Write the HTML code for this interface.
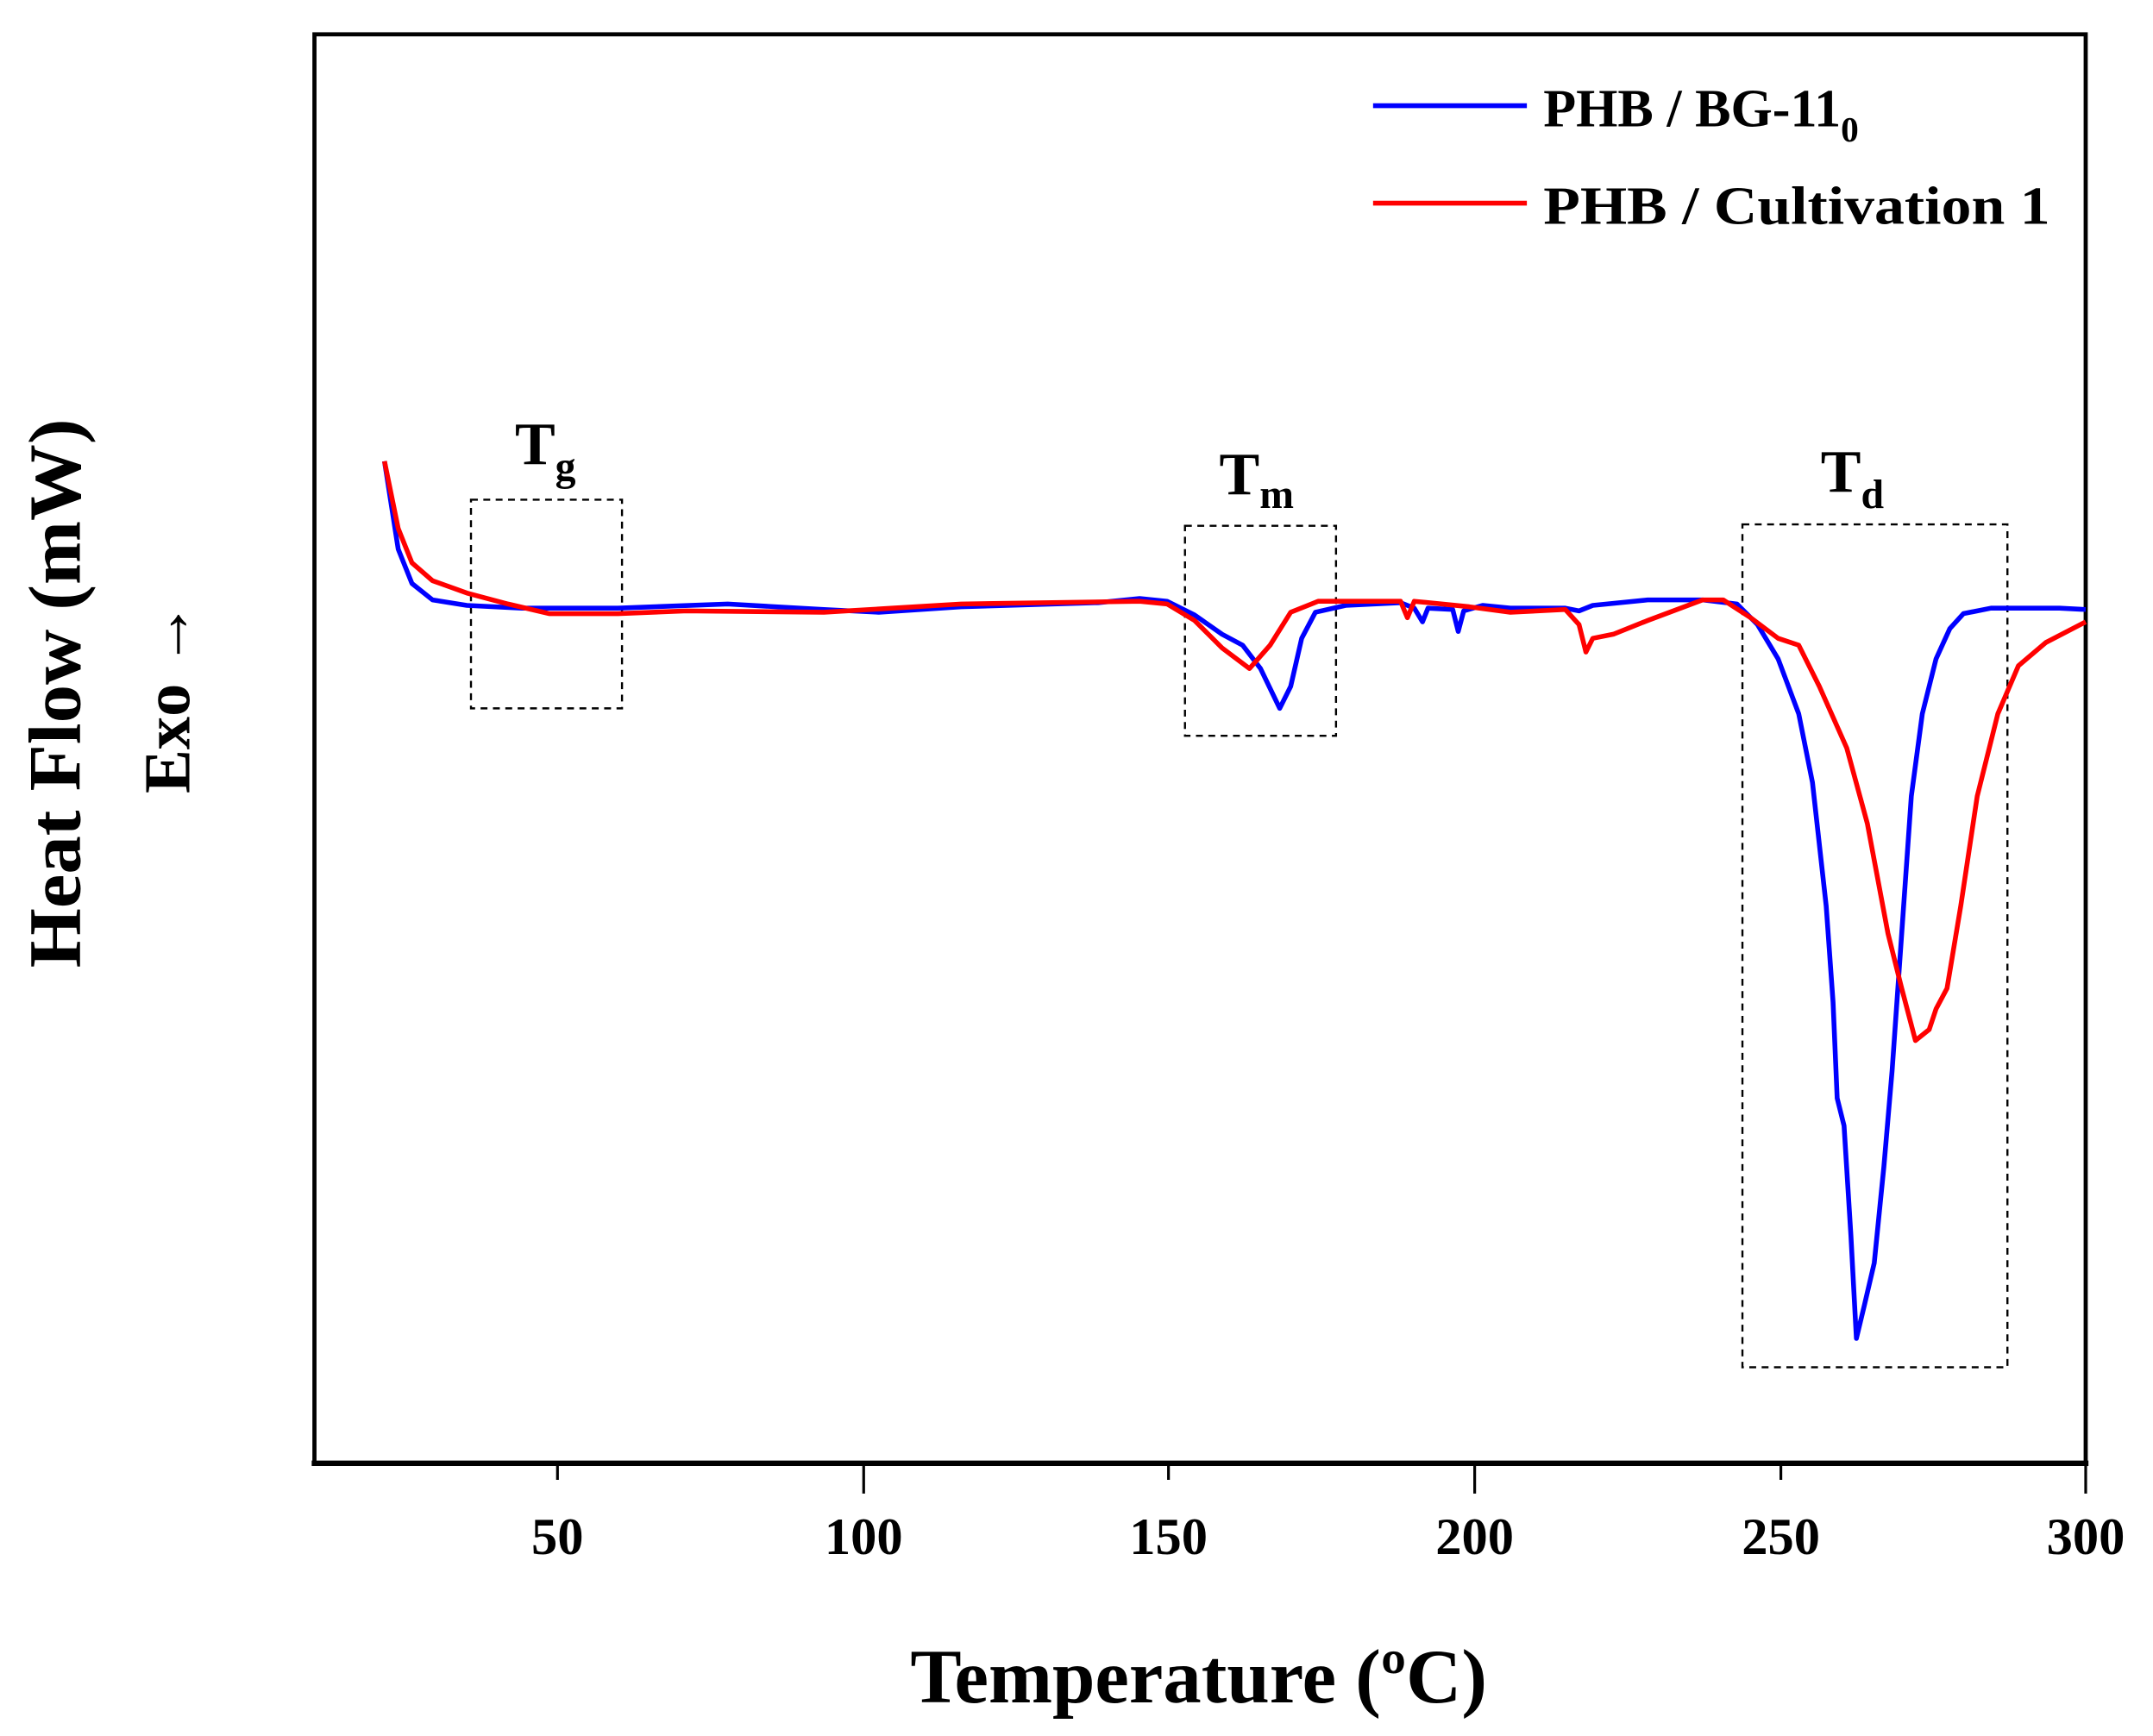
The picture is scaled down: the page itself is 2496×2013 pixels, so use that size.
<!DOCTYPE html>
<html><head><meta charset="utf-8"><style>html,body{margin:0;padding:0;background:#fff}svg{display:block}</style></head>
<body>
<svg width="2496" height="2013" viewBox="0 0 1568 1264.6" xmlns="http://www.w3.org/2000/svg" font-family="Liberation Serif, serif" font-weight="bold">
<rect x="229" y="25" width="1290" height="1041" fill="none" stroke="#000" stroke-width="3"/>
<line x1="227" y1="1066" x2="1521" y2="1066" stroke="#000" stroke-width="4"/>
<g stroke="#000" stroke-width="2">
<line x1="406" y1="1066" x2="406" y2="1078"/><line x1="629" y1="1066" x2="629" y2="1088"/>
<line x1="851" y1="1066" x2="851" y2="1078"/><line x1="1074" y1="1066" x2="1074" y2="1088"/>
<line x1="1297" y1="1066" x2="1297" y2="1078"/><line x1="1519" y1="1066" x2="1519" y2="1088"/>
</g>
<g font-size="38" text-anchor="middle">
<text x="406" y="1132">50</text><text x="629" y="1132">100</text><text x="851" y="1132">150</text>
<text x="1074" y="1132">200</text><text x="1297" y="1132">250</text><text x="1519" y="1132">300</text>
</g>
<text x="873" y="1240" font-size="56" text-anchor="middle" textLength="420" lengthAdjust="spacingAndGlyphs">Temperature (ºC)</text>
<text transform="translate(58,505) rotate(-90)" font-size="54" text-anchor="middle" textLength="400" lengthAdjust="spacingAndGlyphs">Heat Flow (mW)</text>
<text transform="translate(138,508) rotate(-90)" font-size="48" text-anchor="middle">Exo →</text>
<line x1="1000" y1="77" x2="1112" y2="77" stroke="#0000ff" stroke-width="3.5"/>
<text x="1124" y="92" font-size="39">PHB / BG-11<tspan font-size="26" dy="11">0</tspan></text>
<line x1="1000" y1="148" x2="1112" y2="148" stroke="#ff0000" stroke-width="3.5"/>
<text x="1124" y="163" font-size="39" textLength="369" lengthAdjust="spacingAndGlyphs">PHB / Cultivation 1</text>
<g fill="none" stroke="#000" stroke-width="1.5" stroke-dasharray="5,4">
<rect x="343" y="364" width="110" height="152"/>
<rect x="863" y="383" width="110" height="153"/>
<rect x="1269" y="382" width="193" height="614"/>
</g>
<g font-size="44">
<text x="375" y="338">T<tspan font-size="30" dy="12">g</tspan></text>
<text x="888" y="360">T<tspan font-size="30" dy="10">m</tspan></text>
<text x="1326" y="358">T<tspan font-size="30" dy="12">d</tspan></text>
</g>
<polyline fill="none" stroke="#0000ff" stroke-width="3.5" stroke-linejoin="round" points="280,336 290,400 300,425 315,437 340,441 380,443 420,443 450,443 530,440 600,444 640,446 700,442 800,439 830,436 850,438 870,448 890,462 905,470 918,487 932,516 940,500 948,465 958,446 980,441 1020,439 1030,443 1036,453 1040,443 1058,444 1062,460 1066,445 1080,441 1100,443 1140,443 1150,445 1160,441 1200,437 1240,437 1265,440 1280,455 1295,480 1310,520 1320,570 1330,660 1335,730 1338,800 1343,820 1348,900 1352,975 1358,950 1365,920 1372,850 1378,780 1385,680 1392,580 1400,520 1410,480 1420,458 1430,447 1450,443 1500,443 1519,444"/>
<polyline fill="none" stroke="#ff0000" stroke-width="3.5" stroke-linejoin="round" points="280,336 290,385 300,410 315,423 340,432 370,440 400,447 450,447 500,445 600,446 650,443 700,440 830,438 850,440 870,452 890,472 910,487 925,470 940,446 960,438 1020,438 1025,450 1030,438 1070,442 1100,446 1140,444 1150,455 1155,475 1160,465 1175,462 1200,452 1240,437 1255,437 1275,450 1295,465 1310,470 1325,500 1345,545 1360,600 1375,680 1385,720 1395,758 1405,750 1410,735 1418,720 1428,660 1440,580 1455,520 1470,485 1490,468 1519,453"/>
</svg>
</body></html>
